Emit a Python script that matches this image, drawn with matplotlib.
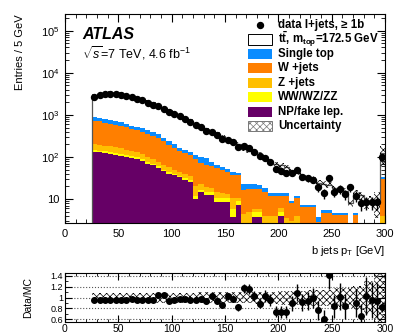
import numpy as np
import matplotlib
matplotlib.use('Agg')
import matplotlib.pyplot as plt
from matplotlib.patches import Rectangle
from matplotlib.ticker import MultipleLocator, FixedLocator, FuncFormatter, NullFormatter

plt.rcParams['font.family'] = ['Liberation Sans', 'DejaVu Sans']
plt.rcParams['mathtext.fontset'] = 'custom'
plt.rcParams['mathtext.rm'] = 'Liberation Sans'
plt.rcParams['mathtext.it'] = 'Liberation Sans:italic'
plt.rcParams['mathtext.bf'] = 'Liberation Sans:bold'
plt.rcParams['hatch.color'] = '#777777'
plt.rcParams['hatch.linewidth'] = 0.5

# 5 GeV bins from 25 to 300 GeV
edges = np.arange(25, 305, 5)
centers = edges[:-1] + 2.5

data = [2700, 2950, 3150, 3200, 3150, 3050, 2850, 2650, 2400, 2200,
        1950, 1750, 1600, 1400, 1200, 1050, 920, 800, 690, 590,
        510, 420, 390, 330, 270, 260, 225, 170, 180, 160,
        130, 105, 95, 75, 52, 47, 42, 42, 48, 34,
        31, 29, 19, 14, 31, 15, 17, 13, 19, 12,
        8, 8.5, 8.5, 8.5, 100]

ttbar = [1960, 2255, 2516, 2608, 2576, 2507, 2349, 2172, 2001, 1836,
         1613, 1428, 1179, 1056, 1037, 894, 786, 669, 585, 511,
         426, 359, 302, 286, 251, 203, 185, 164, 131, 114,
         104, 96, 74, 64, 56, 50, 43, 38, 32, 30,
         26, 22, 21, 17.5, 16.5, 13.2, 12, 10.8, 8, 8.7,
         12.2, 8.3, 8.9, 9.0, 88]

single_top = [160, 150, 144, 140, 127, 120, 110, 100, 95, 85,
              80, 75, 65, 50, 50, 35, 22, 22, 24, 22,
              28, 27, 17, 11, 10, 6, 7, 5, 7, 5.5,
              5.5, 5, 3.4, 2, 2, 2, 2, 1, 1.5, 0.6,
              0.6, 0.6, 0.8, 0.9, 0.9, 0.5, 0.5, 0.5, 0, 0.5,
              0, 0, 0, 0, 4]

wjets = [520, 506, 469, 441, 409, 390, 360, 320, 298, 276,
         262, 228, 202, 175, 133, 115, 95, 85, 74, 67,
         49.4, 46.6, 41.6, 39.4, 35.4, 31.9, 27.2, 26.4, 11.5, 12.5,
         11.7, 11.2, 10.6, 8, 8, 6, 8.5, 5, 6.5, 4.1,
         4.1, 4.1, 0.4, 2.1, 2.1, 1.7, 1.7, 1.7, 0, 1.7,
         0, 0, 0, 0, 26]

zjets = [54, 52, 50, 48, 45, 42, 39, 36, 33, 30,
         24, 22, 18, 15, 13, 10, 9, 9, 7, 9,
         6, 5, 4, 4, 3, 2.5, 5, 1.5, 3.5, 4,
         1, 1, 3, 3, 3, 1, 2.5, 2, 3, 1.5,
         1.5, 1.5, 1.5, 1.5, 1.5, 1.5, 1.5, 1.5, 0, 1.5,
         0, 0, 0, 0, 3]

diboson = [12, 12, 11, 11, 10, 10, 9, 9, 8, 7,
           6, 6, 5, 4, 4, 3, 3, 3, 3, 2,
           2, 2, 2, 2, 2, 2, 2, 2, 1, 1,
           1, 1, 1, 1, 1, 1, 1, 1, 1, 1,
           1, 1, 1, 1, 1, 1, 1, 1, 0, 1,
           0, 0, 0, 0, 1]

fakes = [134, 130, 126, 120, 114, 108, 102, 95, 91, 82,
         68, 64, 55, 46, 40, 37, 33, 28, 26, 10,
         14.6, 12.4, 12.4, 8.6, 8.6, 8.6, 3.8, 7.1, 0, 0,
         3.8, 3.8, 0, 0, 0, 4, 0, 0, 0, 0,
         0, 0, 0, 0, 0, 0, 0, 0, 0, 0,
         0, 0, 0, 0, 0]

# relative uncertainty of the prediction
unc = [0.08, 0.08, 0.08, 0.08, 0.08, 0.08, 0.08, 0.08, 0.08, 0.08,
       0.09, 0.09, 0.09, 0.09, 0.09, 0.09, 0.09, 0.09, 0.09, 0.09,
       0.10, 0.10, 0.10, 0.10, 0.10, 0.10, 0.10, 0.10, 0.10, 0.10,
       0.11, 0.11, 0.11, 0.11, 0.11, 0.13, 0.13, 0.13, 0.13, 0.13,
       0.15, 0.15, 0.15, 0.15, 0.15, 0.17, 0.17, 0.17, 0.20, 0.22,
       0.22, 0.30, 0.30, 0.60, 0.50]

stack = [(fakes, '#660066', 'NP/fake lep.'),
         (diboson, '#ffff00', 'WW/WZ/ZZ'),
         (zjets, '#ffbf00', 'Z +jets'),
         (wjets, '#ff7f00', 'W +jets'),
         (single_top, '#0a8cff', 'Single top')]

data = np.array(data, float)
unc = np.array(unc)

fig = plt.figure(figsize=(4.07, 3.35), dpi=100)
ax = fig.add_axes([65/407, 112/335, 320/407, 209/335])
rax = fig.add_axes([65/407, 13/335, 320/407, 49/335])

bottom = np.zeros(len(centers))
for vals, col, lab in stack:
    vals = np.array(vals, float)
    ax.bar(centers, vals, width=5, bottom=bottom, color=col, lw=0, zorder=2)
    bottom = bottom + vals
ttbar = np.array(ttbar, float)
ax.bar(centers, ttbar, width=5, bottom=bottom, color='white', lw=0, zorder=1)
total = bottom + ttbar
ax.stairs(total, edges, baseline=1e-2, color='#555555', lw=0.9, zorder=3)
ax.bar(centers, 2 * unc * total, width=5, bottom=total * (1 - unc), fill=False,
       hatch='xxxxx', lw=0, zorder=3)
ax.errorbar(centers, data, yerr=np.sqrt(data), fmt='o', color='black', ms=4.3,
            elinewidth=1, capsize=0, zorder=5)

ax.set_yscale('log')
ax.set_xlim(0, 300)
ax.set_ylim(2.7, 2.5e5)
ax.xaxis.set_major_locator(MultipleLocator(50))
ax.xaxis.set_minor_locator(MultipleLocator(10))
ax.yaxis.set_major_formatter(FuncFormatter(
    lambda v, p: '10' if abs(v - 10) < 1e-6 else r'$10^{%d}$' % round(np.log10(v))))
ax.yaxis.set_minor_formatter(NullFormatter())
ax.tick_params(which='both', direction='in', top=True, right=True, labelsize=8, pad=4)
ax.tick_params(which='major', length=6)
ax.tick_params(which='minor', length=3)
ax.set_ylabel('Entries / 5 GeV', loc='top', fontsize=8)
ax.yaxis.set_label_coords(-0.125, 1.0)
ax.set_xlabel(r'b jets p$_{\mathrm{T}}$ [GeV]', loc='right', fontsize=8)

ax.text(0.053, 0.904, 'ATLAS', transform=ax.transAxes, fontsize=11.5,
        fontweight='bold', fontstyle='italic', va='center')
ax.text(0.053, 0.813, r'$\sqrt{s}$=7 TeV, 4.6 fb$^{-1}$', transform=ax.transAxes,
        fontsize=9, va='center')

# legend, drawn row by row in axes fraction (ROOT-like fixed spacing)
labels = [u'data l+jets, \u2265 1b', r'$\mathbf{t\bar{t}}$, m$_{\mathbf{top}}$=172.5 GeV']
fills = [None, ('white', 'black', None)]
for vals, col, lab in stack[::-1]:
    labels.append(lab)
    fills.append((col, 'none', None))
labels.append('Uncertainty')
fills.append(('white', '#777777', 'xxxxx'))

x_box, w_box, h_box = 0.572, 0.075, 0.048
x_txt = 0.666
y0, dy = 0.947, 0.069
for i, (lab, f) in enumerate(zip(labels, fills)):
    y = y0 - i * dy
    if f is None:
        ax.plot([x_box + w_box / 2], [y], 'o', color='black', ms=4.3,
                transform=ax.transAxes, zorder=6)
    else:
        fc, ec, hatch = f
        ax.add_patch(Rectangle((x_box, y - h_box / 2), w_box, h_box, facecolor=fc,
                               edgecolor=ec, hatch=hatch, lw=0.7,
                               transform=ax.transAxes, zorder=6))
    ax.text(x_txt, y, lab, transform=ax.transAxes, fontsize=8.3,
            fontweight='bold', va='center', ha='left', zorder=6)

# ratio panel
ratio = data / total
rerr = np.sqrt(data) / total
rax.bar(centers, 2 * unc, width=5, bottom=1 - unc, fill=False, hatch='xxxxx',
        lw=0, zorder=2)
for v in [0.6, 0.8, 1.0, 1.2, 1.4]:
    rax.axhline(v, color='#555555', ls=':', lw=0.8, zorder=1)
rax.errorbar(centers, ratio, yerr=rerr, fmt='o', color='black', ms=4,
             elinewidth=1, capsize=0, zorder=5)
rax.set_xlim(0, 300)
rax.set_ylim(0.55, 1.455)
rax.xaxis.set_major_locator(MultipleLocator(50))
rax.xaxis.set_minor_locator(MultipleLocator(10))
rax.yaxis.set_major_locator(FixedLocator([0.6, 0.8, 1.0, 1.2, 1.4]))
rax.yaxis.set_major_formatter(FuncFormatter(lambda v, p: '%g' % v))
rax.yaxis.set_minor_locator(MultipleLocator(0.1))
rax.tick_params(which='both', direction='in', top=True, right=True, pad=1.5)
rax.tick_params(axis='x', labelsize=7.5)
rax.tick_params(axis='y', labelsize=6.5)
rax.tick_params(which='major', length=5)
rax.tick_params(which='minor', length=2.5)
rax.set_ylabel('Data/MC', fontsize=7.5)
rax.yaxis.set_label_coords(-0.10, 0.5)

fig.savefig('out.png', dpi=100)
